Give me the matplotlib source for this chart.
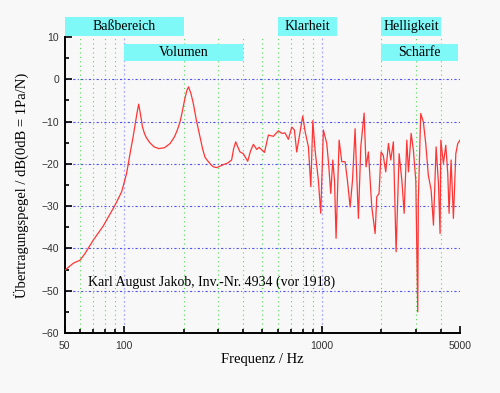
import matplotlib
matplotlib.use("Agg")
import matplotlib.pyplot as plt
from matplotlib.patches import Rectangle
import numpy as np

# Frequenzgang
freq = [50.4, 55.4, 59.9, 63.5, 70, 78.5, 90, 97.3, 103, 108, 111, 114, 116.5, 118.6,
        121, 124, 127, 130, 135, 142, 150, 160, 171, 180, 186, 192, 198, 203, 208, 212,
        218, 224, 232, 242, 250, 257, 265, 275, 283, 294, 318, 335, 350, 358, 367, 376,
        386, 401, 422, 436, 451, 469, 482, 513, 537, 569, 603, 628, 652, 678, 705, 727,
        747, 777, 801, 824, 856, 880, 901, 925, 961, 988, 1019, 1060, 1085, 1110, 1137,
        1160, 1181, 1224, 1262, 1312, 1348, 1391, 1430, 1474, 1500, 1532, 1575, 1637,
        1675, 1721, 1790, 1861, 1897, 1948, 1994, 2046, 2106, 2173, 2233, 2302, 2376,
        2461, 2541, 2609, 2692, 2743, 2831, 2906, 2988, 3057, 3078, 3165, 3263, 3355,
        3458, 3572, 3671, 3786, 3890, 3965, 4000, 4121, 4237, 4336, 4403, 4507, 4631,
        4762, 4872, 5000]
pegel = [-45.1, -43.5, -42.8, -41.2, -38.0, -34.7, -29.8, -26.6, -22.3, -16.8, -13.8,
         -10.5, -7.8, -5.9, -8.2, -11.3, -12.9, -13.9, -15.0, -16.0, -16.4, -16.2,
         -15.2, -13.6, -12.0, -10.1, -7.2, -4.6, -2.6, -1.8, -3.4, -5.7, -9.6, -13.6,
         -16.6, -18.5, -19.3, -20.2, -20.7, -20.9, -20.2, -19.8, -19.1, -16.5, -14.8,
         -16.0, -17.2, -17.6, -19.4, -17.0, -15.4, -16.6, -16.1, -17.3, -13.2, -13.5,
         -12.2, -12.8, -12.7, -14.2, -11.3, -12.0, -17.2, -12.4, -8.7, -12.4, -16.0,
         -25.4, -9.8, -16.8, -23.9, -31.7, -12.0, -15.2, -20.5, -27.0, -19.1, -24.0,
         -37.6, -14.4, -19.5, -19.5, -23.9, -30.2, -23.9, -11.7, -22.0, -32.9, -16.0,
         -8.0, -20.7, -17.2, -30.2, -36.5, -27.8, -27.0, -17.2, -18.0, -21.9, -15.2,
         -19.1, -14.8, -40.8, -17.6, -23.9, -31.7, -14.4, -21.9, -12.8, -16.8, -23.9,
         -55.0, -28.6, -8.1, -10.1, -15.2, -22.7, -26.2, -34.5, -16.0, -24.6, -36.5,
         -14.4, -19.9, -15.6, -22.3, -31.7, -19.1, -32.9, -17.6, -15.2, -14.4]

# Bereiche oben
band_names = ['Baßbereich', 'Volumen', 'Klarheit', 'Helligkeit', 'Schärfe']
band_lo = [50, 100, 600, 2000, 2000]
band_hi = [200, 400, 1200, 4000, 4900]
band_row = [0, 1, 0, 0, 1]

xticks = [50, 100, 1000, 5000]
minor_f = [60, 70, 80, 90, 200, 300, 400, 500, 600, 700, 800, 900, 2000, 3000, 4000]

serif = 'Liberation Serif'
bg = '#f8f8f8'

fig = plt.figure(figsize=(5, 3.93), dpi=100, facecolor=bg)
ax = fig.add_axes([0.129, 0.1527, 0.791, 0.7533])
ax.set_facecolor(bg)
ax.set_xscale('log')
ax.set_xlim(50, 5000)
ax.set_ylim(-60, 10)

# gitter
for f in minor_f:
    ax.axvline(f, color='#50e050', lw=0.8, ls=(0, (1, 3)), zorder=1)
for f in [100, 1000]:
    ax.axvline(f, color='#a8a8ff', lw=0.9, ls=(0, (1.5, 2)), zorder=1)
for y in range(-50, 1, 10):
    ax.axhline(y, color='#5050ff', lw=0.8, ls=(0, (2, 2, 1, 2)), zorder=1)

ax.plot(freq, pegel, color='#ff3535', lw=0.9, zorder=3)

for sp in ['top', 'right']:
    ax.spines[sp].set_visible(False)
for sp in ['left', 'bottom']:
    ax.spines[sp].set_linewidth(1.4)

ax.set_xticks(xticks)
ax.set_xticklabels([str(t) for t in xticks])
ax.set_xticks(minor_f, minor=True)
ax.set_xticklabels([], minor=True)
ax.set_yticks(range(-60, 11, 10))
ax.set_yticks(range(-55, 10, 10), minor=True)
ax.tick_params(which='both', direction='in', width=1.2, labelsize=7.5,
               labelcolor='#333333', labelfontfamily='Liberation Sans')
ax.tick_params(which='major', length=5)
ax.tick_params(which='minor', length=3)
ax.tick_params(axis='x', pad=6)
ax.tick_params(axis='y', pad=4)

ax.set_xlabel('Frequenz / Hz', family=serif, fontsize=10.5, labelpad=1)
ax.set_ylabel('Übertragungspegel / dB(0dB = 1Pa/N)', family=serif, fontsize=10.5,
              labelpad=9)

ax.text(66, -48, 'Karl August Jakob, Inv.-Nr. 4934 (vor 1918)', family=serif,
        fontsize=10, va='center', ha='left', zorder=4)

rows = [(10.2, 4.5), (4.3, 4.05)]
for name, lo, hi, r in zip(band_names, band_lo, band_hi, band_row):
    y0, h = rows[r]
    ax.add_patch(Rectangle((lo, y0), hi - lo, h, facecolor='#7ff8f8',
                           edgecolor='none', clip_on=False, zorder=5))
    ax.text(np.sqrt(lo * hi), y0 + h / 2, name, family=serif, fontsize=10,
            ha='center', va='center', zorder=6, clip_on=False)

fig.savefig('out.png', dpi=100, facecolor=bg)
